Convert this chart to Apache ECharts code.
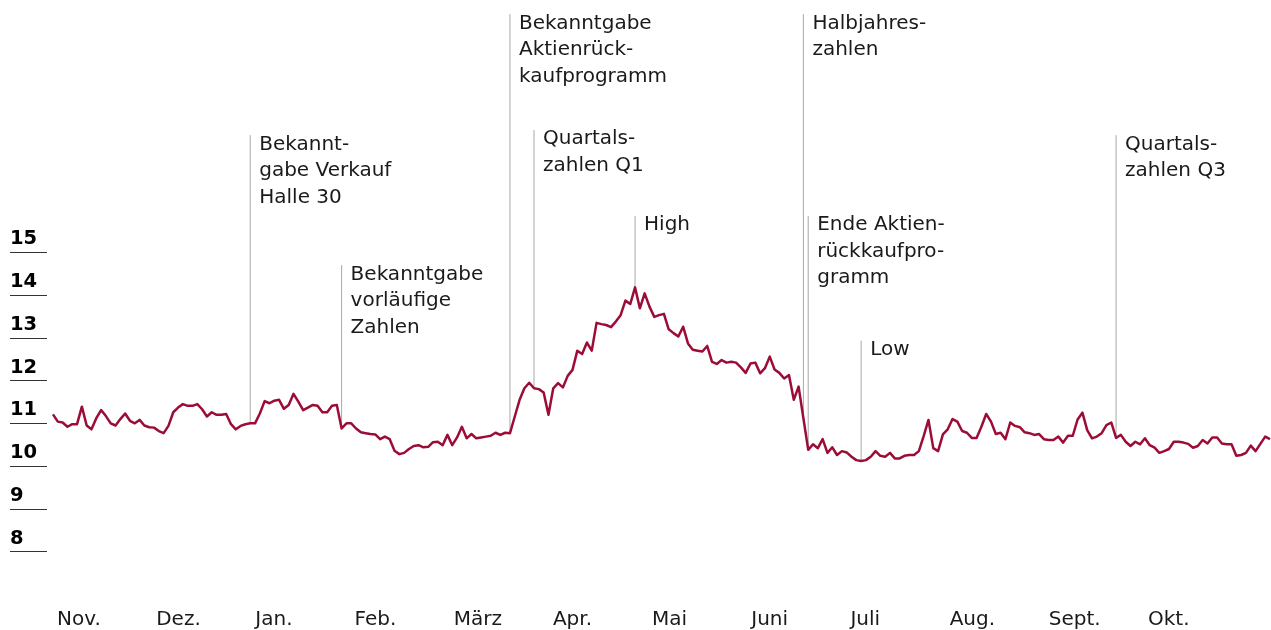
<!DOCTYPE html>
<html>
<head>
<meta charset="utf-8">
<title>Aktienkurs</title>
<script src="https://cdn.jsdelivr.net/npm/echarts@6/dist/echarts.min.js"></script>
<style>
    html, body { margin: 0; padding: 0; background: #fff; }
    #chart_js { width: 1271px; height: 630px; }
</style>
</head>
<body>
<div id="chart_js"></div>
<script>
(function(window) {
    'use strict';

    // Schlusskurse je Handelstag (Nov. bis Okt.)
    var kurs = [
        11.21, 11.04, 11.02, 10.92, 10.98, 10.98, 11.39, 10.95, 10.86, 11.12,
        11.31, 11.17, 11.00, 10.95, 11.10, 11.23, 11.06, 11.00, 11.08, 10.95,
        10.91, 10.90, 10.82, 10.77, 10.94, 11.26, 11.37, 11.45, 11.41, 11.41,
        11.45, 11.33, 11.16, 11.26, 11.20, 11.20, 11.22, 10.98, 10.86, 10.94,
        10.98, 11.00, 11.00, 11.23, 11.52, 11.47, 11.53, 11.55, 11.34, 11.43,
        11.69, 11.51, 11.31, 11.37, 11.43, 11.41, 11.26, 11.26, 11.41, 11.43,
        10.88, 11.00, 11.00, 10.88, 10.79, 10.77, 10.75, 10.74, 10.63, 10.69,
        10.63, 10.36, 10.28, 10.31, 10.40, 10.47, 10.49, 10.44, 10.45, 10.56,
        10.57, 10.49, 10.73, 10.49, 10.67, 10.92, 10.65, 10.75, 10.65, 10.67,
        10.69, 10.71, 10.78, 10.73, 10.78, 10.77,
        11.16, 11.55, 11.82, 11.95, 11.82, 11.80, 11.72, 11.20, 11.82, 11.94,
        11.84, 12.11, 12.25, 12.70, 12.62, 12.89, 12.70, 13.35, 13.32, 13.30,
        13.25, 13.38, 13.53, 13.87, 13.79, 14.18, 13.69, 14.04, 13.73, 13.49,
        13.53, 13.56, 13.20, 13.11, 13.03, 13.26, 12.87, 12.72, 12.70, 12.68,
        12.81, 12.44, 12.39, 12.48, 12.42, 12.44, 12.42, 12.31, 12.18, 12.40,
        12.42, 12.17, 12.29, 12.56, 12.26, 12.18, 12.05, 12.13, 11.55, 11.86,
        11.12,
        10.38, 10.51, 10.42, 10.63, 10.31, 10.44, 10.26, 10.35, 10.32, 10.22,
        10.14, 10.12, 10.14, 10.22, 10.35, 10.24, 10.22, 10.31, 10.18, 10.18,
        10.24, 10.26, 10.26, 10.35, 10.70, 11.08, 10.42, 10.35, 10.74, 10.86,
        11.10, 11.04, 10.82, 10.78, 10.66, 10.66, 10.92, 11.22, 11.04, 10.75,
        10.78, 10.63, 11.02, 10.94, 10.91, 10.79, 10.77,
        10.73, 10.75, 10.63, 10.61, 10.61, 10.69, 10.55, 10.71, 10.71, 11.09,
        11.25, 10.84, 10.65, 10.69, 10.77, 10.96, 11.02, 10.66, 10.73, 10.57,
        10.47, 10.57, 10.51, 10.65, 10.49, 10.43, 10.31, 10.35, 10.40, 10.57,
        10.57, 10.55, 10.52, 10.43, 10.47, 10.61, 10.53, 10.67, 10.67, 10.53,
        10.51, 10.51, 10.24, 10.26, 10.31, 10.48, 10.35, 10.52, 10.69, 10.63
    ];

    // Monatsbeschriftung
    var monate = ['Nov.', 'Dez.', 'Jan.', 'Feb.', 'März', 'Apr.', 'Mai', 'Juni', 'Juli', 'Aug.', 'Sept.', 'Okt.'];

    // Skala
    var skalaMin = 8;
    var skalaMax = 15;

    // Ereignisse: Handelstag, Oberkante der Linie (in €), Text
    var ereignisTag = [41, 60, 95, 100, 121, 156, 157, 168, 221];
    var ereignisOben = [17.74, 14.70, 20.57, 17.86, 15.85, 20.57, 15.85, 12.93, 17.74];
    var ereignisText = [
        'Bekannt-\ngabe Verkauf\nHalle 30',
        'Bekanntgabe\nvorläufige\nZahlen',
        'Bekanntgabe\nAktienrück-\nkaufprogramm',
        'Quartals-\nzahlen Q1',
        'High',
        'Halbjahres-\nzahlen',
        'Ende Aktien-\nrückkaufpro-\ngramm',
        'Low',
        'Quartals-\nzahlen Q3'
    ];

    var schrift = '"DejaVu Sans", sans-serif';
    var tage = kurs.map(function(v, i) { return i; });
    var ereignisse = ereignisTag.map(function(tag, i) {
        return [tag, kurs[tag], ereignisOben[i], ereignisText[i]];
    });

    var chart = echarts.init(document.getElementById('chart_js'), null, { renderer: 'canvas' });

    var option = {
        animation: false,
        title: {
            text: 'Aktienkurs (in €)',
            right: 938,
            top: -21,
            padding: 0,
            textStyle: { fontFamily: schrift, fontWeight: 'bold', fontSize: 22, color: '#111' }
        },
        grid: [
            // Kurslinie
            { left: 53, right: 1, top: 0, bottom: 35.6 },
            // Skalenstriche links
            { left: 10, width: 37, top: 252.3, bottom: 78.4 },
            // Monate
            { left: 57, width: 1091, top: 0, height: 598 }
        ],
        xAxis: [{
            gridIndex: 0,
            type: 'category',
            data: tage,
            boundaryGap: false,
            show: false
        }, {
            gridIndex: 1,
            type: 'value',
            show: false
        }, {
            gridIndex: 2,
            type: 'category',
            data: monate,
            boundaryGap: false,
            axisLine: { show: false },
            axisTick: { show: false },
            axisLabel: {
                interval: 0,
                align: 'left',
                margin: 13,
                fontFamily: schrift,
                fontSize: 20,
                color: '#1a1a1a'
            }
        }],
        yAxis: [{
            gridIndex: 0,
            type: 'value',
            min: 7,
            max: 20.9,
            show: false
        }, {
            gridIndex: 1,
            type: 'value',
            min: skalaMin,
            max: skalaMax,
            interval: 1,
            axisLine: { show: false },
            axisTick: { show: false },
            splitLine: { show: true, lineStyle: { color: '#333', width: 1.2 } },
            axisLabel: {
                inside: true,
                margin: 0,
                align: 'left',
                verticalAlign: 'bottom',
                padding: [0, 0, 3, 0],
                fontFamily: schrift,
                fontWeight: 'bold',
                fontSize: 19.5,
                color: '#000'
            }
        }, {
            gridIndex: 2,
            type: 'value',
            show: false
        }],
        series: [{
            name: 'Ereignisse',
            type: 'custom',
            xAxisIndex: 0,
            yAxisIndex: 0,
            clip: false,
            z: 1,
            data: ereignisse,
            renderItem: function(params, api) {
                var unten = api.coord([api.value(0), api.value(1)]);
                var oben = api.coord([api.value(0), api.value(2)]);
                var text = ereignisse[params.dataIndex][3];
                return {
                    type: 'group',
                    children: [{
                        type: 'line',
                        shape: { x1: unten[0], y1: unten[1], x2: oben[0], y2: oben[1] },
                        style: { stroke: '#a8a8a8', lineWidth: 1 }
                    }, {
                        type: 'text',
                        x: oben[0] + 9,
                        y: oben[1] - 4,
                        style: {
                            text: text,
                            font: '20px ' + schrift,
                            lineHeight: 26.5,
                            fill: '#1a1a1a',
                            verticalAlign: 'top',
                            align: 'left'
                        }
                    }]
                };
            }
        }, {
            name: 'Kurs',
            type: 'line',
            xAxisIndex: 0,
            yAxisIndex: 0,
            z: 3,
            data: kurs,
            showSymbol: false,
            lineStyle: { color: '#9b0d36', width: 2.5, join: 'round' },
            itemStyle: { color: '#9b0d36' }
        }]
    };

    chart.setOption(option);
})(window);
</script>
</body>
</html>
